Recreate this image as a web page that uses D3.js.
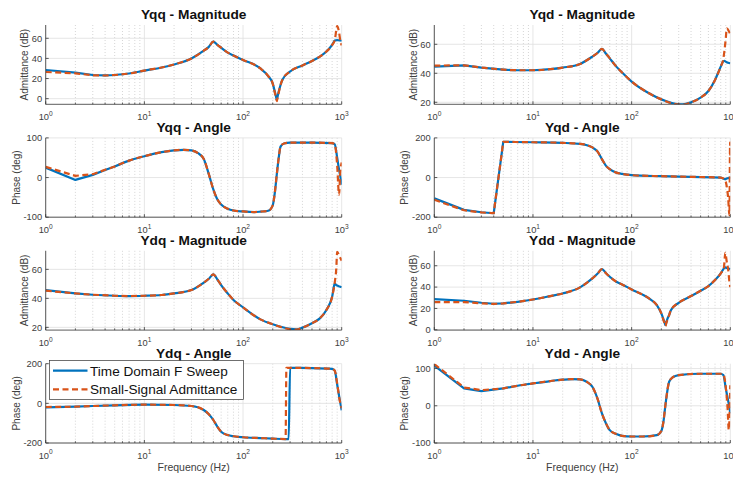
<!DOCTYPE html>
<html>
<head>
<meta charset="utf-8">
<script src="https://cdn.jsdelivr.net/npm/d3@7"></script>
<style>
  html, body { margin: 0; padding: 0; background: #fff; }
  svg { display: block; }
  text { font-family: "Liberation Sans", Arial, Helvetica, sans-serif; }
</style>
</head>
<body>
<svg id="chart" width="733" height="479"></svg>
<script>
// ---------------- DATA ----------------
const seriesNames = ["Time Domain F Sweep", "Small-Signal Admittance"];
const xTickExps = [0, 1, 2, 3];

// Yqq - Magnitude (dB)
const freqYqqMag = [1,2,3,4,5,7,10,15,20,30,40,45,50,55,60,70,80,100,150,180,200,210,216,220,224,230,240,250,300,400,500,600,700,800,850,900,940,970,1000];
const yqqMagTD = [28.5,25.9,23.5,23.2,23.5,25,27.9,31,34,40,47.7,51.5,56.7,53.5,50.7,45.8,42.8,38.5,30,22.5,15,7,2,-1.3,2,7,13.6,18.6,27,33,37.5,41.8,46.8,53.4,57.7,58.2,58,57.8,57.5];
const yqqMagSS = [26.5,25.2,23.2,23,23.5,25,27.9,31,34,40,47.7,51.5,56.7,53.5,50.7,45.8,42.8,38.5,30,22.5,15,6,1,-2.5,1,6,13.6,18.6,27,33,37.5,41.8,46.8,53.4,58,72,66,57,53];

// Yqq - Angle (deg)
const freqYqqAng = [1,2,3,4,5,7,10,15,20,25,30,35,40,45,50,55,60,70,80,100,130,150,180,200,210,220,230,240,260,300,500,800,850,900,940,965,1000];
const yqqAngTD = [25,-6,6.8,18.8,28,42.7,53.8,64,68.4,70,68.4,61.5,47,8.5,-30,-55.6,-68,-78.6,-83,-85.5,-87,-86,-83.8,-70,-38,8.5,50,78,86,88,88,87,84,50,20,5,-18];
const yqqAngSS = [27,4.3,8.5,19.5,28,42.7,53.8,64,68.4,70,68.4,61.5,47,8.5,-30,-55.6,-68,-78.6,-83,-85.5,-87,-86,-83.8,-70,-38,8.5,50,78,86,88,88,87,84,30,-43,10,38];

// Yqd - Magnitude (dB)
const freqYqdMag = [1,2,3,5,7,10,15,20,30,40,45,50,55,60,70,80,100,150,200,300,330,400,500,600,700,800,850,870,900,920,950,1000];
const yqdMagTD = [44.6,45.5,43.9,42.5,42.1,42.1,42.8,43.9,46.4,51.5,54,56.8,53.5,50.3,44.6,40.5,34.3,26.2,22,18.6,18.5,20,23.2,27.8,35.4,44.6,48.3,48.5,48,47.6,47.3,46.9];
const yqdMagSS = [45.3,45.5,43.9,42.5,42.1,42.1,42.8,43.9,46.4,51.5,54,56.8,53.5,50.3,44.6,40.5,34.3,26.2,22,18.4,18.3,20,23.2,27.8,35.4,44.6,50,55,64,71,70,67];

// Yqd - Angle (deg)
const freqYqdAng = [1,2,3,4,5,10,20,30,40,45,50,55,60,70,80,100,200,400,800,880,930,950,980,995,1000];
const yqdAngTD = [-105,-163,-175,-180,180,178,175,170,152,132,93,59,42,25,18.6,12,6.8,3.4,0,-8,-4,-3,-1,0,0];
const yqdAngSS = [-112,-165,-176,-180,180,178,175,170,152,132,93,59,42,25,18.6,12,6.8,3.4,0,-10,-60,-100,-190,178,100];

// Ydq - Magnitude (dB)
const freqYdqMag = [1,2,3,5,7,10,15,20,30,40,45,50,55,60,70,80,100,150,200,300,350,400,500,600,700,800,850,880,900,950,1000];
const ydqMagTD = [45.7,43.4,42.5,41.8,41.6,41.8,42.3,43.4,45.7,50.8,53.5,56.6,53,49.2,43.4,38.9,33.8,25.5,22.1,18.9,18.6,19.8,22.8,26.2,32,41.1,50.3,49.2,48.8,48.2,47.6];
const ydqMagSS = [45.3,43.4,42.5,41.8,41.6,41.8,42.3,43.4,45.7,50.8,53.5,56.6,53,49.2,43.4,38.9,33.8,25.5,22.1,18.7,18.4,19.8,22.8,26.2,32,41.1,51,60,72,69,66];

// Ydd - Magnitude (dB)
const freqYddMag = [1,2,3,4,5,7,10,15,20,30,40,45,50,55,60,70,80,100,150,180,200,210,216,220,224,230,240,250,300,400,500,600,700,800,860,890,920,950,980,1000];
const yddMagTD = [28.7,27.2,25.3,24.4,24.7,26.2,28.4,31.6,34,39.7,48.1,52.5,56.9,53,49.7,45,42.5,37.8,29.4,23.1,15.3,10,6.6,4.4,6.6,10,13.8,18.4,25.3,31.6,36.6,40.9,46.6,52.8,57.5,58.5,57.8,57.5,57.2,56.9];
const yddMagSS = [26,26,24.7,24.2,24.7,26.2,28.4,31.6,34,39.7,48.1,52.5,56.9,53,49.7,45,42.5,37.8,29.4,23.1,15.3,9,5.8,3.4,5.8,9,13.8,18.4,25.3,31.6,36.6,40.9,46.6,52.8,58,72,64,57,45,40];

// Ydq - Angle (deg)
const freqYdqAng = [1,2,3,5,10,20,30,40,45,50,55,60,70,80,100,150,200,270,275,290,300,500,800,850,900,950,1000];
const ydqAngTD = [-20,-17,-13.4,-10,-6.7,-8.4,-13.4,-33.6,-55,-84,-118,-143,-160,-166,-171,-175,-178,-180,-180,-180,179,178,174,165,95,25,-35];
const ydqAngSS = [-18.5,-17,-13.4,-10,-6.7,-8.4,-13.4,-33.6,-55,-84,-118,-143,-160,-166,-171,-175,-178,-180,179,179,179,178,174,165,100,20,-25];

// Ydd - Angle (deg)
const freqYddAng = [1,2,3,5,7,10,15,20,25,30,35,40,45,50,55,60,70,80,100,130,180,200,210,220,240,260,300,500,800,850,900,940,965,1000];
const yddAngTD = [107.6,46.6,39.5,46.6,53.8,60,66.4,70,71.7,70.9,64.6,51,19.7,-20.6,-47.5,-65.5,-76,-80.7,-82.5,-82.5,-79,-68,-43,1.8,64.6,76,82.5,86,86,82.5,46.6,20,5,-20.6];
const yddAngSS = [112,49,42,46.6,53.8,60,66.4,70,71.7,70.9,64.6,51,19.7,-20.6,-47.5,-65.5,-76,-80.7,-82.5,-82.5,-79,-68,-43,1.8,64.6,76,82.5,86,86,84,50,-10,-65,55];

// ---------------- LAYOUT ----------------
const colX = [45.7, 434.3];
const plotW = 296;
const rowY = [25, 137.9, 250.8, 363.7];
const plotH = 79.3;
const blue = "#0072BD", orange = "#D95319";

const panels = [
  {title:"Yqq - Magnitude", col:0,row:0, f:freqYqqMag, td:yqqMagTD, ss:yqqMagSS, ylim:[-5.6,73.2], yticks:[0,20,40,60], ylabel:"Admittance (dB)", lab:21},
  {title:"Yqd - Magnitude", col:1,row:0, f:freqYqdMag, td:yqdMagTD, ss:yqdMagSS, ylim:[18.6,73.3], yticks:[20,40,60], ylabel:"Admittance (dB)", lab:21},
  {title:"Yqq - Angle", col:0,row:1, f:freqYqqAng, td:yqqAngTD, ss:yqqAngSS, ylim:[-100,100], yticks:[-100,0,100], ylabel:"Phase (deg)", lab:29.7},
  {title:"Yqd - Angle", col:1,row:1, f:freqYqdAng, td:yqdAngTD, ss:yqdAngSS, ylim:[-200,200], yticks:[-200,0,200], ylabel:"Phase (deg)", lab:29.5},
  {title:"Ydq - Magnitude", col:0,row:2, f:freqYdqMag, td:ydqMagTD, ss:ydqMagSS, ylim:[18.1,72.8], yticks:[20,40,60], ylabel:"Admittance (dB)", lab:21},
  {title:"Ydd - Magnitude", col:1,row:2, f:freqYddMag, td:yddMagTD, ss:yddMagSS, ylim:[-0.3,74], yticks:[0,20,40,60], ylabel:"Admittance (dB)", lab:21},
  {title:"Ydq - Angle", col:0,row:3, f:freqYdqAng, td:ydqAngTD, ss:ydqAngSS, ylim:[-200,200], yticks:[-200,0,200], ylabel:"Phase (deg)", lab:29.7, legend:true, xlabel:true},
  {title:"Ydd - Angle", col:1,row:3, f:freqYddAng, td:yddAngTD, ss:yddAngSS, ylim:[-100,113], yticks:[-100,0,100], ylabel:"Phase (deg)", lab:29.5, xlabel:true}
];

const svg = d3.select("#chart");
const minorF = [];
for (let d = 0; d < 3; d++) for (let k = 2; k <= 9; k++) minorF.push(k * Math.pow(10, d));

panels.forEach((p, i) => {
  const x0 = colX[p.col], y0 = rowY[p.row];
  const g = svg.append("g").attr("transform", `translate(${x0},${y0})`);
  const x = d3.scaleLog().domain([1, 1000]).range([0, plotW]);
  const y = d3.scaleLinear().domain(p.ylim).range([plotH, 0]);

  // minor x grid (dotted)
  g.selectAll(".mg").data(minorF).enter().append("line")
    .attr("x1", d => x(d)).attr("x2", d => x(d)).attr("y1", 0).attr("y2", plotH)
    .attr("stroke", "#c4c4c4").attr("stroke-width", 0.7).attr("stroke-dasharray", "1,2");
  // major grid
  g.selectAll(".gx").data(xTickExps).enter().append("line")
    .attr("x1", d => x(Math.pow(10, d))).attr("x2", d => x(Math.pow(10, d)))
    .attr("y1", 0).attr("y2", plotH).attr("stroke", "#dfdfdf").attr("stroke-width", 0.8);
  g.selectAll(".gy").data(p.yticks).enter().append("line")
    .attr("x1", 0).attr("x2", plotW).attr("y1", d => y(d)).attr("y2", d => y(d))
    .attr("stroke", "#dfdfdf").attr("stroke-width", 0.8);

  // clip
  const cid = "clip" + i;
  g.append("clipPath").attr("id", cid).append("rect")
    .attr("x", 0).attr("y", 0).attr("width", plotW).attr("height", plotH);

  // straight segments for the sparse low-frequency samples, smooth above 5 Hz
  const lin = d3.line().x(d => x(d[0])).y(d => y(d[1]));
  const mono = d3.line().curve(d3.curveMonotoneX).x(d => x(d[0])).y(d => y(d[1]));
  const pathFor = pts => {
    const low = pts.filter(d => d[0] <= 5);
    const high = pts.filter(d => d[0] >= 5);
    return lin(low) + mono(high).replace(/^M[^A-Za-z]*/, "");
  };
  const tdPts = p.f.map((f, j) => [f, p.td[j]]);
  const ssPts = p.f.map((f, j) => [f, p.ss[j]]);
  const lg = g.append("g").attr("clip-path", `url(#${cid})`);
  lg.append("path").attr("d", pathFor(tdPts)).attr("fill", "none")
    .attr("stroke", blue).attr("stroke-width", 2.2).attr("stroke-linejoin", "round");
  lg.append("path").attr("d", pathFor(ssPts)).attr("fill", "none")
    .attr("stroke", orange).attr("stroke-width", 2.2).attr("stroke-dasharray", "6,3.5")
    .attr("stroke-linejoin", "round");

  // axes lines
  g.append("line").attr("x1", 0).attr("x2", 0).attr("y1", 0).attr("y2", plotH)
    .attr("stroke", "#333").attr("stroke-width", 0.8);
  g.append("line").attr("x1", 0).attr("x2", plotW).attr("y1", plotH).attr("y2", plotH)
    .attr("stroke", "#333").attr("stroke-width", 0.8);

  // x ticks (inward)
  g.selectAll(".xt").data(xTickExps).enter().append("line")
    .attr("x1", d => x(Math.pow(10, d))).attr("x2", d => x(Math.pow(10, d)))
    .attr("y1", plotH).attr("y2", plotH - 3).attr("stroke", "#333").attr("stroke-width", 0.8);
  g.selectAll(".xmt").data(minorF).enter().append("line")
    .attr("x1", d => x(d)).attr("x2", d => x(d))
    .attr("y1", plotH).attr("y2", plotH - 1.8).attr("stroke", "#333").attr("stroke-width", 0.7);
  // y ticks (inward)
  g.selectAll(".yt").data(p.yticks).enter().append("line")
    .attr("x1", 0).attr("x2", 3).attr("y1", d => y(d)).attr("y2", d => y(d))
    .attr("stroke", "#333").attr("stroke-width", 0.8);

  // x tick labels
  const xl = g.selectAll(".xl").data(xTickExps).enter().append("text")
    .attr("x", d => x(Math.pow(10, d))).attr("y", plotH + 15.7)
    .attr("text-anchor", "middle").attr("font-size", "9.3px").attr("fill", "#404040");
  xl.append("tspan").text("10");
  xl.append("tspan").attr("dy", -4.2).attr("font-size", "6.6px").text(d => d);

  // y tick labels
  g.selectAll(".yl").data(p.yticks).enter().append("text")
    .attr("x", -3.6).attr("y", d => y(d)).attr("dy", "0.35em")
    .attr("text-anchor", "end").attr("font-size", "9.3px").attr("fill", "#404040")
    .text(d => d);

  // y label
  g.append("text")
    .attr("transform", `translate(${-p.lab},${plotH / 2}) rotate(-90)`)
    .attr("dy", "0.35em").attr("text-anchor", "middle")
    .attr("font-size", "10px").attr("fill", "#404040").text(p.ylabel);

  // title
  g.append("text").attr("x", plotW / 2).attr("y", -5.6)
    .attr("text-anchor", "middle").attr("font-size", "13.7px").attr("font-weight", "bold")
    .attr("fill", "#111").text(p.title);

  if (p.xlabel) {
    g.append("text").attr("x", plotW / 2).attr("y", plotH + 28.5)
      .attr("text-anchor", "middle").attr("font-size", "10.5px").attr("fill", "#404040")
      .text("Frequency (Hz)");
  }

  if (p.legend) {
    const L = g.append("g").attr("transform", `translate(${49.5 - x0},${360.5 - y0})`);
    L.append("rect").attr("x", 0).attr("y", 0).attr("width", 194).attr("height", 39)
      .attr("fill", "#fff").attr("stroke", "#333").attr("stroke-width", 0.7);
    const cols = [blue, orange];
    seriesNames.forEach((name, k) => {
      const ly = 10.2 + k * 18.6;
      L.append("line").attr("x1", 3.5).attr("x2", 38).attr("y1", ly).attr("y2", ly)
        .attr("stroke", cols[k]).attr("stroke-width", 2.2)
        .attr("stroke-dasharray", k === 1 ? "6,3.5" : null);
      L.append("text").attr("x", 40.5).attr("y", ly + 4.8)
        .attr("font-size", "13.6px").attr("fill", "#111").text(name);
    });
  }
});
</script>
</body>
</html>
